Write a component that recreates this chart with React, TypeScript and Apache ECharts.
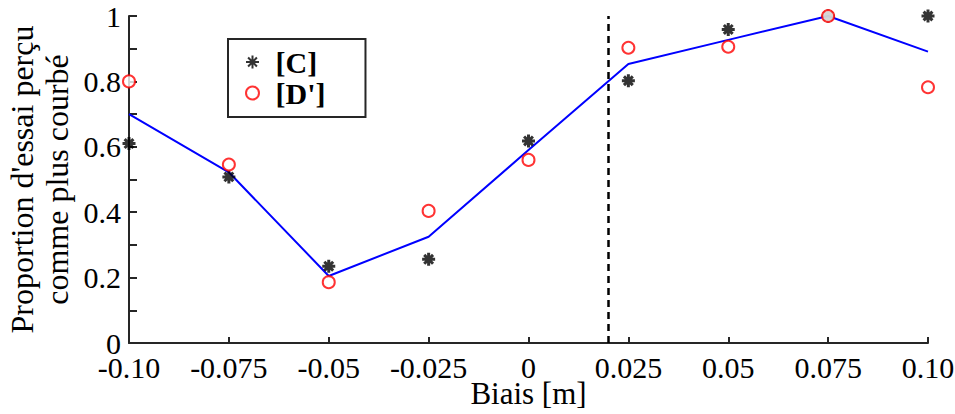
import React, { useEffect, useRef } from "react";
import * as echarts from "echarts";

const xValues = [-0.1, -0.075, -0.05, -0.025, 0, 0.025, 0.05, 0.075, 0.1];
const fitValues = [0.7, 0.522, 0.205, 0.325, 0.59, 0.853, 0.927, 1.0, 0.891];
const cValues = [0.61, 0.508, 0.235, 0.256, 0.618, 0.802, 0.959, 1.0, 1.0];
const dValues = [0.8, 0.546, 0.186, 0.404, 0.56, 0.903, 0.906, 1.0, 0.782];
const xTickLabels = ["-0.10", "-0.075", "-0.05", "-0.025", "0", "0.025", "0.05", "0.075", "0.10"];
const yTickLabels = ["0", "0.2", "0.4", "0.6", "0.8", "1"];
const thresholdX = 0.02;
const seriesNames = ["[C]", "[D']"];
const xTitle = "Biais [m]";
const yTitle = "Proportion d'essai perçu\ncomme plus courbé";

const FONT = "Liberation Serif";
const ASTERISK = "path://M0,5 L10,5 M5,0 L5,10 M1.6,1.6 L8.4,8.4 M1.6,8.4 L8.4,1.6";

export default function App() {
  const ref = useRef<HTMLDivElement>(null);
  useEffect(() => {
    document.body.style.margin = "0";
    if (!ref.current) return;
    const chart = echarts.init(ref.current, undefined, { renderer: "svg" });
    const fitData = xValues.map((x, i) => [x, fitValues[i]]);
    const cData = xValues.map((x, i) => [x, cValues[i]]);
    const dData = xValues.map((x, i) => [x, dValues[i]]);
    const axisColor = "#262626";
    chart.setOption({
      animation: false,
      backgroundColor: "#ffffff",
      textStyle: { fontFamily: FONT },
      grid: { left: 129, right: 27, top: 16, bottom: 71, containLabel: false, outerBoundsMode: "none" },
      legend: {
        show: true,
        data: seriesNames,
        orient: "vertical",
        left: 228,
        top: 39,
        padding: [8, 40, 9, 17],
        itemGap: 1,
        itemWidth: 16,
        itemHeight: 13,
        borderColor: axisColor,
        borderWidth: 2,
        backgroundColor: "#ffffff",
        textStyle: { fontFamily: FONT, fontSize: 30, fontWeight: "bold", color: "#000", lineHeight: 30, padding: [0, 0, 0, 10] },
      },
      xAxis: {
        type: "value",
        min: -0.1,
        max: 0.1,
        interval: 0.025,
        name: xTitle,
        nameLocation: "middle",
        nameGap: 37,
        nameMoveOverlap: false,
        nameTextStyle: { fontFamily: FONT, fontSize: 31, color: "#000", lineHeight: 26 },
        axisLine: { show: true, onZero: false, lineStyle: { color: axisColor, width: 2 } },
        axisTick: { show: true, inside: true, length: 6, lineStyle: { color: axisColor, width: 2 } },
        axisLabel: {
          show: true,
          margin: 12,
          fontFamily: FONT,
          fontSize: 30,
          lineHeight: 24,
          color: "#000",
          formatter: (v: number) => xTickLabels[Math.round((v - xValues[0]) / 0.025)] ?? "",
        },
        splitLine: { show: false },
      },
      yAxis: {
        type: "value",
        min: 0,
        max: 1,
        interval: 0.1,
        name: yTitle,
        nameLocation: "middle",
        nameGap: 55,
        nameMoveOverlap: false,
        nameRotate: 90,
        nameTextStyle: { fontFamily: FONT, fontSize: 32, color: "#000", lineHeight: 35 },
        axisLine: { show: true, onZero: false, lineStyle: { color: axisColor, width: 2 } },
        axisTick: { show: true, inside: true, length: 8, lineStyle: { color: axisColor, width: 2 } },
        axisLabel: {
          show: true,
          margin: 8,
          fontFamily: FONT,
          fontSize: 30,
          lineHeight: 22,
          color: "#000",
          formatter: (v: number) => {
            const k = Math.round(v * 10);
            return k % 2 === 0 ? yTickLabels[k / 2] ?? "" : "";
          },
        },
        splitLine: { show: false },
      },
      series: [
        {
          name: "fit",
          type: "line",
          data: fitData,
          showSymbol: false,
          symbol: "none",
          lineStyle: { color: "#0000ff", width: 2 },
          itemStyle: { color: "#0000ff" },
          z: 2,
          markLine: {
            silent: true,
            symbol: ["none", "none"],
            label: { show: false },
            lineStyle: { color: "#000000", width: 2.5, type: [7, 5] },
            data: [{ xAxis: thresholdX }],
          },
        },
        {
          name: seriesNames[0],
          type: "scatter",
          data: cData,
          symbol: ASTERISK,
          symbolSize: 13,
          itemStyle: { color: "#000000", borderColor: "#000000", borderWidth: 3 },
          z: 3,
        },
        {
          name: seriesNames[1],
          type: "scatter",
          data: dData,
          symbol: "emptyCircle",
          symbolSize: 12,
          itemStyle: { color: "#ff0000", borderColor: "#ff0000", borderWidth: 1.8 },
          z: 4,
        },
      ],
    });
    return () => chart.dispose();
  }, []);
  return <div ref={ref} style={{ width: 955, height: 414 }} />;
}
